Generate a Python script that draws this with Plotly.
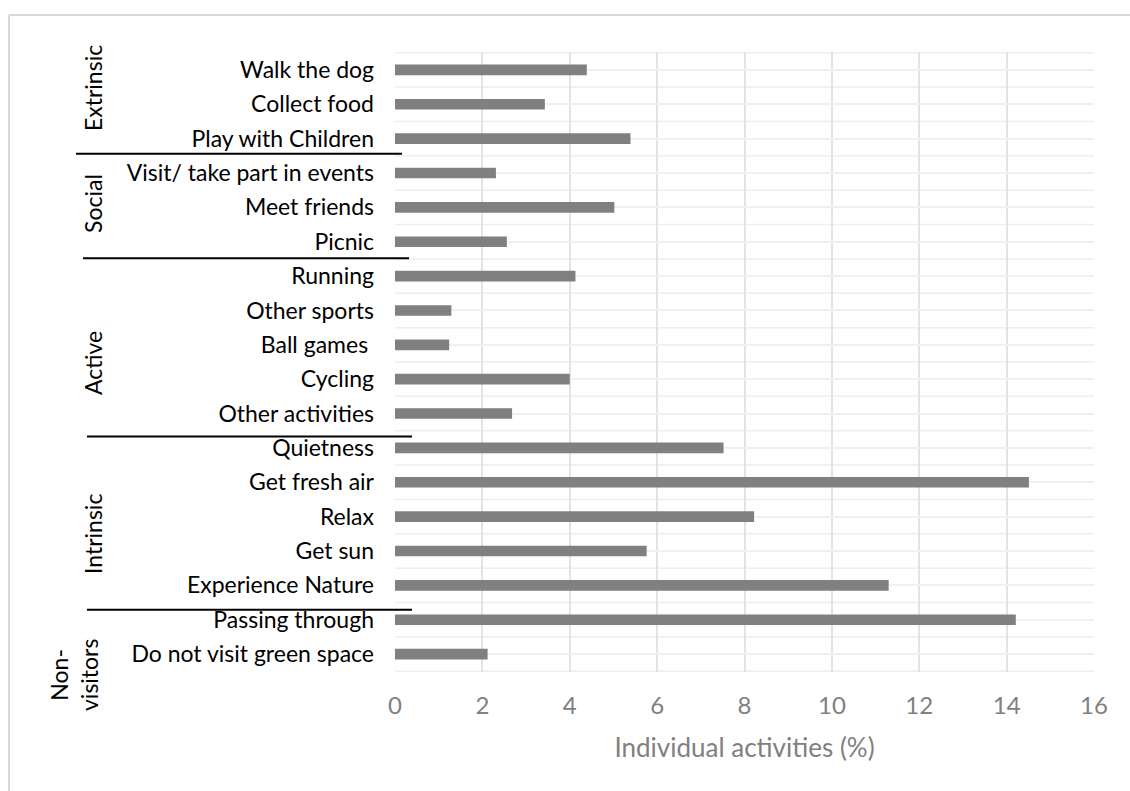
import plotly.graph_objects as go

# ---- data ----
categories = [
    "Walk the dog", "Collect food", "Play with Children",
    "Visit/ take part in events", "Meet friends", "Picnic",
    "Running", "Other sports", "Ball games ", "Cycling", "Other activities",
    "Quietness", "Get fresh air", "Relax", "Get sun", "Experience Nature",
    "Passing through", "Do not visit green space",
]
values = [
    4.39, 3.43, 5.39,
    2.31, 5.02, 2.56,
    4.13, 1.29, 1.24, 4.00, 2.68,
    7.52, 14.51, 8.22, 5.76, 11.30,
    14.21, 2.12,
]
group_names = ["Extrinsic", "Social", "Active", "Intrinsic", "Non-<br>visitors"]
group_sizes = [3, 3, 5, 5, 2]
x_ticks = [0, 2, 4, 6, 8, 10, 12, 14, 16]
x_title = "Individual activities (%)"

# ---- layout geometry (pixels) ----
W, H = 1130, 791
L, R, T, B = 395, 36, 52, 119
PW, PH = W - L - R, H - T - B
FONT = "Lato, Calibri, Carlito, sans-serif"


def px_x(p):
    return (p - L) / PW


def px_y(p):
    return 1 - (p - T) / PH


fig = go.Figure()
fig.add_trace(go.Bar(
    x=values, y=categories, orientation="h",
    marker=dict(color="#808080", line=dict(width=0)),
    hoverinfo="x+y",
))

shapes = []
n = len(categories)
# light horizontal lines at category boundaries
for k in range(n + 1):
    shapes.append(dict(type="line", xref="paper", yref="y", x0=0, x1=1,
                       y0=k - 0.5, y1=k - 0.5, layer="below",
                       line=dict(color="#eeeeee", width=1.5)))

# group separators (hand-drawn look, slightly offset from boundaries)
sep_offsets = [-0.06, -0.02, 0.17, 0.21]
sep_x = [(76, 402), (83, 409), (87, 412), (87, 412)]
b = 0
for i, size in enumerate(group_sizes[:-1]):
    b += size
    x0, x1 = sep_x[i]
    shapes.append(dict(type="line", xref="paper", yref="y",
                       x0=px_x(x0), x1=px_x(x1),
                       y0=b - 0.5 + sep_offsets[i], y1=b - 0.5 + sep_offsets[i],
                       line=dict(color="black", width=2)))

# outer chart border (top and left)
shapes.append(dict(type="line", xref="paper", yref="paper",
                   x0=px_x(9), x1=px_x(1135), y0=px_y(15), y1=px_y(15),
                   line=dict(color="#d9d9d9", width=2)))
shapes.append(dict(type="line", xref="paper", yref="paper",
                   x0=px_x(9), x1=px_x(9), y0=px_y(15), y1=px_y(800),
                   line=dict(color="#d9d9d9", width=2)))

# group labels
group_pos = [(93, 88), (93, 204), (93, 363), (93, 534), (74, 675)]
annotations = []
for name, (gx, gy) in zip(group_names, group_pos):
    annotations.append(dict(text=name, xref="paper", yref="paper",
                            x=px_x(gx), y=px_y(gy), xanchor="center",
                            yanchor="middle", textangle=-90, showarrow=False,
                            align="center",
                            font=dict(family=FONT, size=23, color="black")))

fig.update_layout(
    width=W, height=H,
    margin=dict(l=L, r=R, t=T, b=B, pad=0),
    paper_bgcolor="white", plot_bgcolor="white",
    showlegend=False,
    bargap=0.69,
    shapes=shapes,
    annotations=annotations,
    font=dict(family=FONT, size=22, color="black"),
    xaxis=dict(
        range=[0, 16], tickvals=x_ticks, ticktext=[str(v) for v in x_ticks],
        showgrid=True, gridcolor="#e3e3e3", gridwidth=2,
        zeroline=False, showline=False, ticks="",
        ticklabelstandoff=17,
        tickfont=dict(family=FONT, size=24, color="#808080"),
        title=dict(text=x_title, standoff=20,
                   font=dict(family=FONT, size=26, color="#808080")),
        fixedrange=True,
    ),
    yaxis=dict(
        type="category", categoryorder="array", categoryarray=categories,
        autorange="reversed",
        showgrid=True, gridcolor="#f0f0f0", gridwidth=1.5,
        zeroline=False, showline=False, ticks="",
        ticklabelstandoff=20,
        tickfont=dict(family=FONT, size=23, color="black"),
        fixedrange=True,
    ),
)

fig.write_html("out.html")
